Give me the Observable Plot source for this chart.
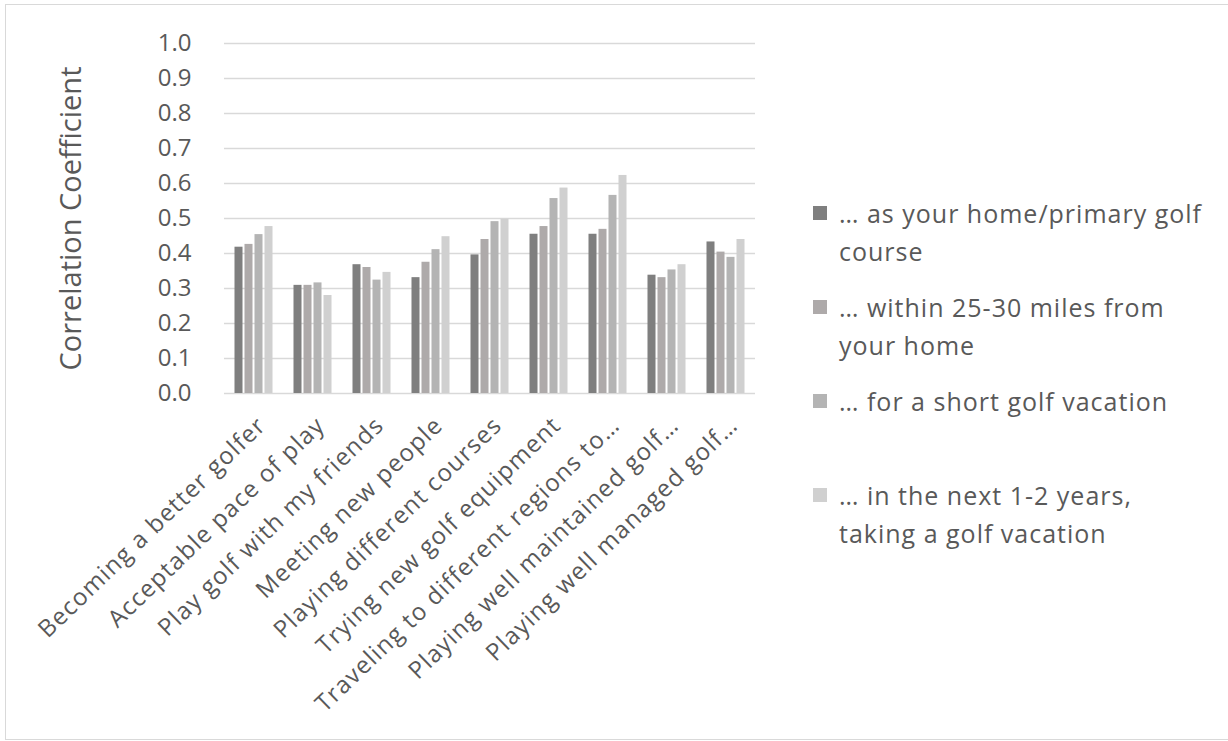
<!DOCTYPE html>
<html><head><meta charset="utf-8">
<script src="https://cdn.jsdelivr.net/npm/d3@7"></script>
<script src="https://cdn.jsdelivr.net/npm/@observablehq/plot@0.6"></script>
<style>
body{margin:0;background:#fff;font-family:"Open Sans",sans-serif;}
#wrap{position:relative;width:1228px;height:741px;overflow:hidden;background:#fff;}
#frame{position:absolute;left:5px;top:4px;width:1260px;height:736px;border:1.5px solid #d9d9d9;box-sizing:border-box;}
#chart{position:absolute;left:0;top:0;}
#chart g[aria-label="fx-axis tick label"] text{letter-spacing:1.2px;}
#legend{position:absolute;left:813px;top:194px;color:#595959;font-size:25px;letter-spacing:1px;}
.entry{display:flex;align-items:flex-start;height:94px;}
.sw{width:14px;height:14px;margin-top:12px;margin-right:12px;flex:none;}
.lbl{line-height:38px;white-space:pre-line;}
</style></head>
<body>
<div id="wrap"><div id="frame"></div><div id="chart"></div><div id="legend"></div></div>
<script>
const categories = [
  "Becoming a better golfer",
  "Acceptable pace of play",
  "Play golf with my friends",
  "Meeting new people",
  "Playing different courses",
  "Trying new golf equipment",
  "Traveling to different regions to…",
  "Playing well maintained golf…",
  "Playing well managed golf…"
];
const seriesNames = [
  "… as your home/primary golf\ncourse",
  "… within 25-30 miles from\nyour home",
  "… for a short golf vacation",
  "… in the next 1-2 years,\ntaking a golf vacation"
];
const seriesColors = ["#7f7f7f", "#aeaaaa", "#b4b4b4", "#d0d0d0"];
const homeCourse    = [0.418, 0.309, 0.368, 0.331, 0.396, 0.455, 0.455, 0.338, 0.433];
const within30Miles = [0.426, 0.309, 0.360, 0.375, 0.440, 0.477, 0.469, 0.331, 0.404];
const shortVacation = [0.454, 0.316, 0.324, 0.411, 0.491, 0.557, 0.566, 0.353, 0.389];
const nextYears     = [0.477, 0.280, 0.346, 0.448, 0.498, 0.587, 0.623, 0.368, 0.440];
const yTicks = [0, 0.1, 0.2, 0.3, 0.4, 0.5, 0.6, 0.7, 0.8, 0.9, 1.0];
const yLabel = "Correlation Coefficient";

const seriesValues = [homeCourse, within30Miles, shortVacation, nextYears];
const rows = [];
categories.forEach((c, i) => seriesNames.forEach((s, j) => rows.push({category: c, series: s, value: seriesValues[j][i]})));

const chart = Plot.plot({
  width: 780, height: 741,
  marginLeft: 219.5, marginRight: 21.5, marginTop: 43, marginBottom: 348,
  style: {fontFamily: "'Open Sans', sans-serif", color: "#595959", background: "transparent", overflow: "visible"},
  fx: {domain: categories, padding: 0, label: null},
  x: {domain: seriesNames, paddingInner: 0.2, paddingOuter: 0.9, axis: null},
  y: {domain: [0, 1], label: null},
  color: {domain: seriesNames, range: seriesColors},
  marks: [
    Plot.gridY(yTicks, {stroke: "#d9d9d9", strokeOpacity: 1, strokeWidth: 1.5}),
    Plot.barY(rows, {fx: "category", x: "series", y: "value", fill: "series"}),
    Plot.axisY(yTicks, {tickFormat: d => d.toFixed(1), tickSize: 0, tickPadding: 33, fontSize: 24, label: null}),
    Plot.axisY({ticks: [], label: yLabel, labelAnchor: "center", labelOffset: 164, labelArrow: "none", fontSize: 29}),
    Plot.axisFx({anchor: "bottom", tickRotate: -44, tickSize: 0, tickPadding: 28, dx: 8, fontSize: 24, label: null})
  ]
});
document.getElementById("chart").appendChild(chart);

const legend = document.getElementById("legend");
seriesNames.forEach((s, j) => {
  const e = document.createElement("div"); e.className = "entry";
  const sw = document.createElement("div"); sw.className = "sw"; sw.style.background = seriesColors[j];
  const t = document.createElement("div"); t.className = "lbl"; t.textContent = s;
  e.appendChild(sw); e.appendChild(t); legend.appendChild(e);
});
</script>
</body></html>
